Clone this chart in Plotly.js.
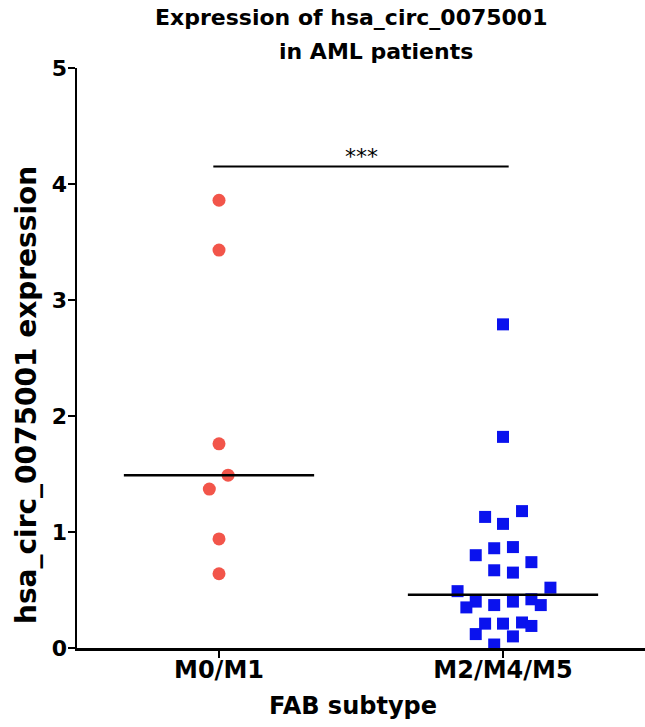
<!DOCTYPE html>
<html>
<head>
<meta charset="utf-8">
<script src="https://cdn.plot.ly/plotly-3.0.1.min.js"></script>
<style>html,body{margin:0;padding:0;background:#fff;}#chart{width:645px;height:727px;}</style>
</head>
<body>
<div id="chart"></div>
<script>
// Categories and tick labels
var categories = ["M0/M1", "M2/M4/M5"];
var yTickLabels = ["0", "1", "2", "3", "4", "5"];
// M0/M1 values and horizontal scatter offsets
var m01Values = [3.86, 3.43, 1.76, 1.49, 1.37, 0.94, 0.64];
var m01Offsets = [0.0, 0.0, 0.0, 0.032, -0.034, 0.0, 0.0];
// M2/M4/M5 values and horizontal scatter offsets
var m245Values = [2.79, 1.82, 1.18, 1.13, 1.07, 0.87, 0.86, 0.80, 0.74, 0.67, 0.65,
                  0.52, 0.49, 0.42, 0.40, 0.40, 0.37, 0.37, 0.35, 0.22, 0.21, 0.21, 0.19, 0.12, 0.10, 0.03];
var m245Offsets = [0.0, 0.0, 0.067, -0.063, 0.0, 0.035, -0.031, -0.096, 0.1, -0.031, 0.035,
                   0.167, -0.16, 0.1, -0.096, 0.035, -0.031, 0.133, -0.129, 0.067, -0.063, 0.0, 0.1, -0.096, 0.035, -0.031];
// Medians
var medians = [1.49, 0.46];
var medianHalfWidth = 0.335;
// Significance
var sigLevel = 4.15;
var sigLabel = "***";
// Titles
var titleLines = ["Expression of hsa_circ_0075001", "in AML patients"];
var xTitle = "FAB subtype";
var yTitle = "hsa_circ_0075001 expression";

var m01X = m01Values.map(function(v, i){ return 0 + m01Offsets[i]; });
var m245X = m245Values.map(function(v, i){ return 1 + m245Offsets[i]; });

var font = "DejaVu Sans, sans-serif";

var traces = [
  {type:'scatter', mode:'markers', x:m01X, y:m01Values, cliponaxis:false,
   marker:{symbol:'circle', size:13, color:'#f2554a'}, hoverinfo:'y', showlegend:false},
  {type:'scatter', mode:'markers', x:m245X, y:m245Values, cliponaxis:false,
   marker:{symbol:'square', size:12, color:'#0a12ee'}, hoverinfo:'y', showlegend:false}
];
medians.forEach(function(m, i){
  traces.push({type:'scatter', mode:'lines', x:[i - medianHalfWidth, i + medianHalfWidth], y:[m, m],
    line:{color:'#000', width:2.5}, hoverinfo:'skip', showlegend:false, cliponaxis:false});
});
traces.push({type:'scatter', mode:'lines', x:[-0.02, 1.02], y:[sigLevel, sigLevel],
  line:{color:'#000', width:2}, hoverinfo:'skip', showlegend:false, cliponaxis:false});

var layout = {
  width:645, height:727,
  margin:{l:77, r:0, t:68, b:79},
  paper_bgcolor:'#fff', plot_bgcolor:'#fff',
  font:{family:font, color:'#000'},
  xaxis:{range:[-0.5, 1.5], tickvals:[0, 1], ticktext:categories.map(function(c){return '<b>'+c+'</b>';}),
    showline:true, linecolor:'#000', linewidth:2.5, showgrid:false, zeroline:false,
    ticks:'outside', ticklen:7, tickwidth:2, tickcolor:'#000', ticklabelstandoff:-8,
    tickfont:{family:font, size:24, color:'#000'}},
  yaxis:{range:[0, 5], tickvals:[0,1,2,3,4,5], ticktext:yTickLabels.map(function(c){return '<b>'+c+'</b>';}),
    showline:true, linecolor:'#000', linewidth:2.5, showgrid:false, zeroline:false,
    ticks:'outside', ticklen:7, tickwidth:2, tickcolor:'#000', ticklabelstandoff:-4,
    tickfont:{family:font, size:22, color:'#000'}},
  annotations:[
    {x:0.5, y:sigLevel, xref:'x', yref:'y', text:sigLabel, showarrow:false,
      yanchor:'bottom', yshift:-4, font:{family:font, size:22, color:'#000'}},
    {px:351, py:18, text:'<b>' + titleLines[0] + '</b>', size:22},
    {px:376, py:52, text:'<b>' + titleLines[1] + '</b>', size:22},
    {px:353, py:706, text:'<b>' + xTitle + '</b>', size:24},
    {px:26, py:395, text:'<b>' + yTitle + '</b>', size:28, textangle:-90}
  ]
};
// convert text pixel positions to paper coordinates of the plot area
var pw = 645 - 77 - 0, ph = 727 - 68 - 79;
layout.annotations = layout.annotations.map(function(a){
  if (a.px === undefined) return a;
  return {x:(a.px - 77) / pw, y:1 + (68 - a.py) / ph, xref:'paper', yref:'paper',
    xanchor:'center', yanchor:'middle', text:a.text, showarrow:false, textangle:a.textangle || 0,
    font:{family:font, size:a.size, color:'#000'}};
});

Plotly.newPlot('chart', traces, layout, {displayModeBar:false, staticPlot:true});
</script>
</body>
</html>
